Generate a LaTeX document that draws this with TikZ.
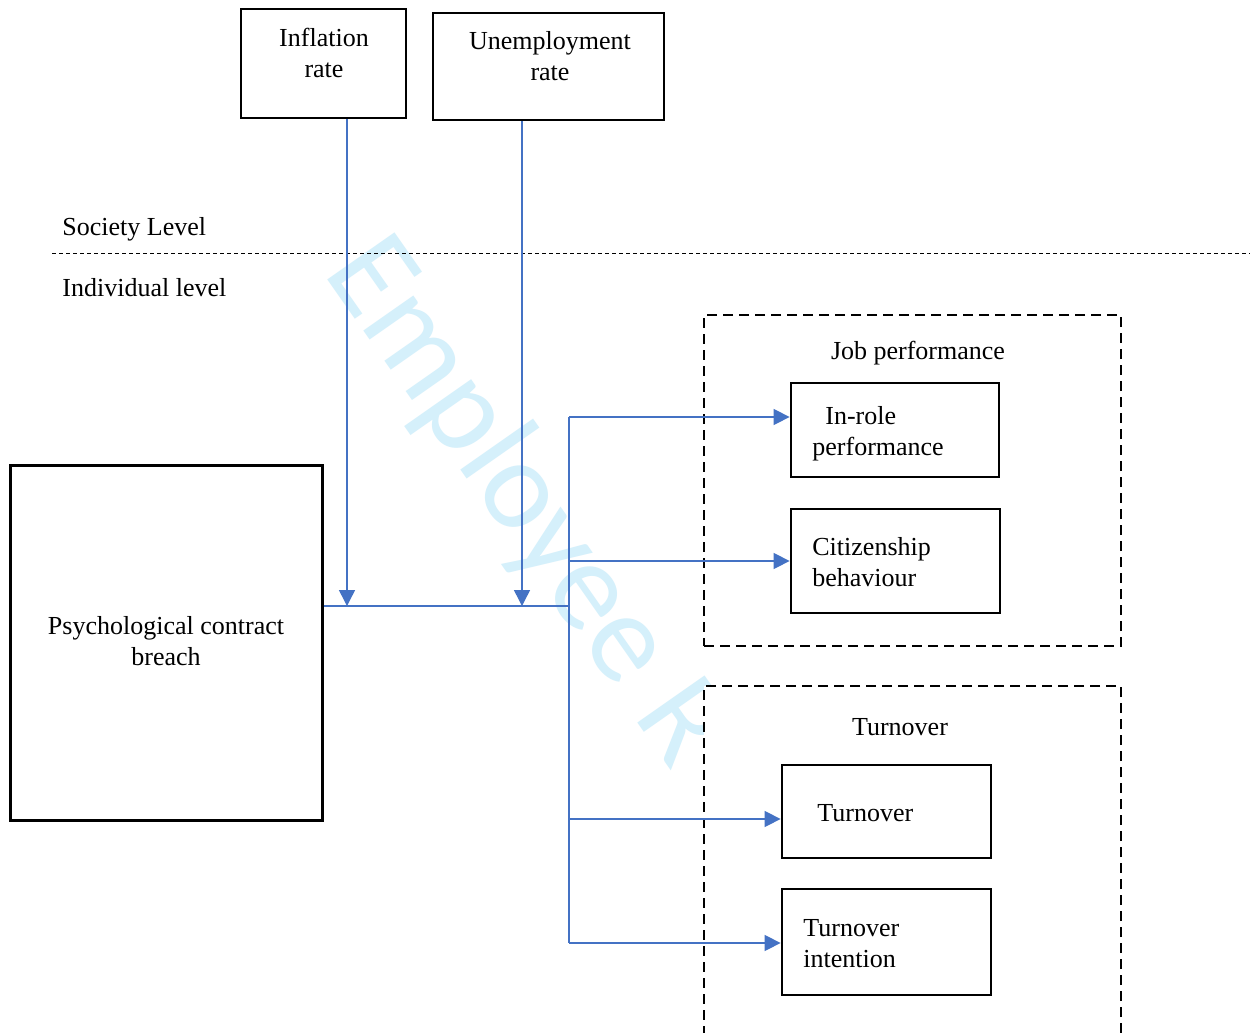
\documentclass[tikz,border=0pt]{standalone}
\usepackage{fontspec}
\setmainfont{Liberation Serif}
\newfontfamily\wmfont{Carlito}
\usetikzlibrary{arrows.meta,fit}
\definecolor{conncol}{RGB}{68,114,196}
\definecolor{wmcol}{RGB}{213,240,251}
\begin{document}
\begin{tikzpicture}[x=0.5pt,y=-0.5pt,
  box/.style={draw=black,line width=1.4pt,fill=white,inner sep=0pt},
  grp/.style={draw=black,line width=1.4pt,dash pattern=on 5pt off 3pt,fill=white,inner sep=0pt},
  conn/.style={draw=conncol,line width=0.75pt},
  arr/.style={conn,-{Triangle[length=8pt,width=8pt]}},
  lbl/.style={font=\fontsize{13}{15.5}\selectfont,inner sep=0pt},
]
\clip (0,0) rectangle (1250,1033);
\fill[white] (0,0) rectangle (1250,1033);

% watermark
\node[anchor=base west,rotate=-55,text=wmcol,font=\wmfont\fontsize{64}{64}\selectfont,inner sep=0pt] (wm) at (322,272) {Employee R};

% groups
\node[grp,fit={(704,315) (1121,646)}] (jobgrp) {};
\node[grp,fit={(704,686) (1121,1080)}] (turngrp) {};

% level line
\coordinate (lvlL) at (52,253);
\coordinate (lvlR) at (1250,253);
\draw[line width=0.5pt,dash pattern=on 2pt off 1.5pt] (lvlL) -- (lvlR);
\node[lbl,anchor=base west] (soc) at (62,235) {Society Level};
\node[lbl,anchor=base west] (ind) at (62,296) {Individual level};

% connectors
\coordinate (ja) at (347,606);
\coordinate (jb) at (522,606);
\coordinate (hub) at (569,606);
\coordinate (b1) at (569,417);
\coordinate (b2) at (569,561);
\coordinate (b3) at (569,819);
\coordinate (b4) at (569,943);

% boxes
\node[box,fit={(241,9) (406,118)}] (infl) {};
\node[box,fit={(433,13) (664,120)}] (unemp) {};
\node[box,line width=1.5pt,fit={(10,465) (322,820)}] (pcb) {};
\node[box,fit={(791,383) (999,477)}] (inrole) {};
\node[box,fit={(791,509) (1000,613)}] (citiz) {};
\node[box,fit={(782,765) (991,858)}] (turn) {};
\node[box,fit={(782,889) (991,995)}] (tint) {};

\draw[arr] (infl.south -| ja) -- (ja);
\draw[arr] (unemp.south -| jb) -- (jb);
\draw[conn] (pcb.east |- hub) -- (hub);
\draw[conn] (b1) -- (b4);
\draw[arr] (b1) -- (inrole.west |- b1);
\draw[arr] (b2) -- (citiz.west |- b2);
\draw[arr] (b3) -- (turn.west |- b3);
\draw[arr] (b4) -- (tint.west |- b4);

% texts (base anchor = baseline of last line)
\node[lbl,align=center,anchor=base] (inflT) at (324,77) {Inflation\\rate};
\node[lbl,align=center,anchor=base] (unempT) at (550,80) {Unemployment\\rate};
\node[lbl,align=center,anchor=base] (pcbT) at (166,665) {Psychological contract\\breach};
\node[lbl,anchor=base] (jobT) at (918,359) {Job performance};
\node[lbl,align=left,anchor=base west] (inroleT) at (812,455) {\hspace*{6.5pt}In-role\\performance};
\node[lbl,align=left,anchor=base west] (citizT) at (812,586) {Citizenship\\behaviour};
\node[lbl,anchor=base] (turnT) at (900,735) {Turnover};
\node[lbl,anchor=base west] (turnboxT) at (817,821) {Turnover};
\node[lbl,align=left,anchor=base west] (tintT) at (803,967) {Turnover\\intention};
\end{tikzpicture}
\end{document}
